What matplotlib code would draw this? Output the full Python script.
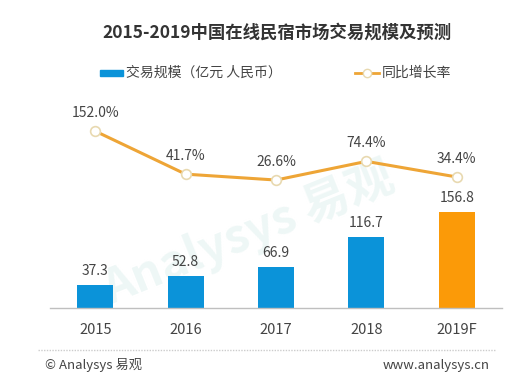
import matplotlib
matplotlib.use("Agg")
import matplotlib.pyplot as plt
from matplotlib.lines import Line2D
from matplotlib.patches import Rectangle

plt.rcParams['font.family'] = ['Noto Sans CJK SC', 'DejaVu Sans']

years = ['2015', '2016', '2017', '2018', '2019F']
scale = [37.3, 52.8, 66.9, 116.7, 156.8]
growth = [152.0, 41.7, 26.6, 74.4, 34.4]
bar_colors = ['#0b93d9', '#0b93d9', '#0b93d9', '#0b93d9', '#fb9a08']
line_color = '#eea536'
title = '2015-2019中国在线民宿市场交易规模及预测'
legend_bar = '交易规模（亿元 人民币）'
legend_line = '同比增长率'

W, H = 517, 381
fig = plt.figure(figsize=(W / 100, H / 100), dpi=100)
fig.patch.set_facecolor('white')

left, right = 50 / W, 502 / W
bottom = 1 - 308 / H
top = 1 - 100 / H
ax = fig.add_axes([left, bottom, right - left, top - bottom])
x = list(range(len(years)))
ax.bar(x, scale, width=0.4, color=bar_colors, zorder=2)
ax.set_xlim(-0.5, len(years) - 0.5)
ax.set_ylim(0, 340)
for s in ['top', 'right', 'left']:
    ax.spines[s].set_visible(False)
ax.spines['bottom'].set_color('#bfbfbf')
ax.spines['bottom'].set_linewidth(1.0)
ax.set_yticks([])
ax.set_xticks(x)
ax.set_xticklabels(years, fontsize=10.5, color='#444444')
ax.tick_params(axis='x', length=0, pad=11)
for xi, v in zip(x, scale):
    ax.annotate(f'{v:.1f}', (xi, v), xytext=(0, 5), textcoords='offset points',
                ha='center', va='bottom', fontsize=10, color='#444444', zorder=4)

# faint watermark behind the bars
ax.text(0.44, 0.36, 'Analysys 易观', transform=ax.transAxes, ha='center',
        va='center', fontsize=34, color='#eef7f6', rotation=22, zorder=0,
        fontweight='bold')

ax2 = ax.twinx()
ax2.set_ylim(-301.5, 231.8)
ax2.axis('off')
ax2.plot(x, growth, color=line_color, lw=2.2, marker='o', ms=7,
         mfc='white', mec='#e8d9b0', mew=1.2, zorder=3)
for xi, v in zip(x, growth):
    ax2.annotate(f'{v:.1f}%', (xi, v), xytext=(0, 8), textcoords='offset points',
                 ha='center', va='bottom', fontsize=10, color='#444444')

# title
fig.text(277 / W, 1 - 33 / H, title, ha='center', va='center',
         fontsize=12.5, fontweight='bold', color='#333333')

# legend
fig.patches.append(Rectangle((100 / W, 1 - 76 / H), 23 / W, 6 / H,
                             transform=fig.transFigure, color='#0b93d9'))
fig.text(126 / W, 1 - 73 / H, legend_bar, ha='left', va='center',
         fontsize=10, color='#444444')
fig.lines.append(Line2D([355 / W, 379 / W], [1 - 73 / H, 1 - 73 / H],
                        transform=fig.transFigure, color=line_color, lw=2))
fig.lines.append(Line2D([367 / W], [1 - 73 / H], transform=fig.transFigure,
                        marker='o', ms=6, mfc='white', mec='#e8d9b0', lw=0))
fig.text(382 / W, 1 - 73 / H, legend_line, ha='left', va='center',
         fontsize=10, color='#444444')

# separator and footer
fig.lines.append(Line2D([38 / W, 496 / W], [1 - 350 / H, 1 - 350 / H],
                        transform=fig.transFigure, color='#cccccc', lw=1,
                        ls=(0, (1, 1))))
fig.text(45 / W, 1 - 365 / H, '© Analysys 易观', ha='left', va='center',
         fontsize=9.5, color='#444444')
fig.text(490 / W, 1 - 366 / H, 'www.analysys.cn', ha='right', va='center',
         fontsize=9.5, color='#444444')

fig.savefig('out.png', dpi=100, facecolor='white')
